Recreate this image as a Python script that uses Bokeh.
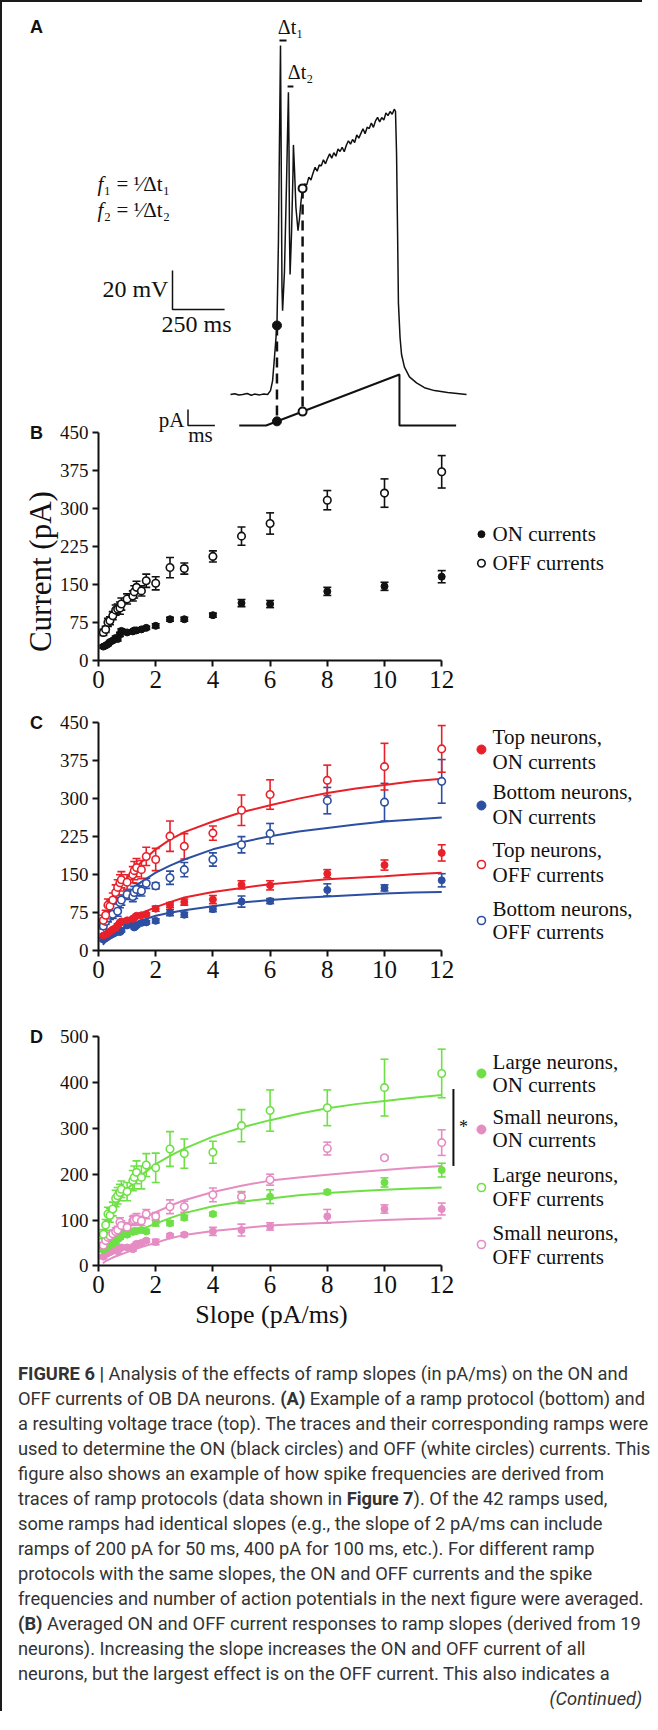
import math
from bokeh.plotting import figure
from bokeh.models import Range1d, FixedTicker, Whisker, TeeHead, ColumnDataSource, Div, LinearAxis
from bokeh.layouts import column
from bokeh.embed import file_html
from bokeh.resources import INLINE
from bokeh.core.properties import value

SERIF = "Liberation Serif"
SANS = "Liberation Sans"

# ------------------------------------------------------------------ panel A data (ms, mV, pA)
trace_t_ms = [0, 20, 40, 58, 80, 100, 115, 140, 160, 178, 192, 202, 211, 223, 230, 235, 240, 242, 245, 247,
              250, 259, 269, 278, 281, 283, 286, 293, 300, 302, 307, 314, 324, 331, 338,
              346, 356, 366, 376, 386, 396, 406, 416, 426, 436, 446, 456, 466, 476, 486, 496, 506, 516, 526,
              536, 546, 556, 566, 576, 586, 596, 606, 616, 626, 636, 646, 656, 666, 676, 686, 696, 706, 716,
              726, 736, 746, 756, 766, 776, 786, 792,
              797, 802, 806, 814, 821, 835, 859, 893, 931, 979, 1042, 1133]
trace_mv = [-60, -59.6, -60.3, -60, -59.5, -60.4, -59.8, -60.2, -59.7, -60, -58, -53, -41, -24.6, 18, 69, 119, 85,
            33, -5, -17, 3, 49, 95, 64, 23, 1.5, 23, 54, 68, 56, 36, 24, 30, 38.5,
            45.7, 48.0, 47.5, 51.5, 50.0, 53.5, 56.5, 54.5, 57.7, 57.3, 60.4, 58.3, 61.1, 63.4, 61.2, 64.0, 62.2,
            65.9, 64.6, 66.8, 64.5, 67.8, 70.1, 68.4, 70.8, 69.2, 73.1, 71.5, 73.9, 76.3, 73.7, 77.1, 76.4, 79.2,
            77.0, 80.3, 82.1, 79.8, 82.0, 80.7, 84.4, 83.0, 85.1, 83.7, 86.3, 85.2,
            64, 23, -13, -31, -39.5, -46, -51, -54, -56.5, -58, -59, -60]
ramp_t_ms = [42, 171, 811, 811, 1083]
ramp_pa = [0, 0, 400, 0, 0]
on_point = dict(t=223, mv=-24.6, pa=32.5)
off_point = dict(t=346, mv=45.7, pa=109)

# ------------------------------------------------------------------ slopes (pA/ms)
slopes = [0.17, 0.25, 0.33, 0.4, 0.5, 0.6, 0.67, 0.75, 0.8, 1.0, 1.2, 1.25, 1.33, 1.5, 1.67,
          2, 2.5, 3, 4, 5, 6, 8, 10, 12]
fit_x = [0.15, 0.25, 0.5, 0.75, 1, 1.5, 2, 2.5, 3, 4, 5, 6, 7, 8, 9, 10, 11, 12]
x_ticks = [0, 2, 4, 6, 8, 10, 12]

# panel B
b_on = [28, 30, 33, 37, 40, 45, 43, 52, 59, 56, 58, 60, 60, 62, 65, 69, 82, 82, 90, 114, 112, 137, 147, 166]
b_on_err = [3, 3, 3, 3, 3, 4, 4, 4, 4, 3, 3, 3, 3, 3, 3, 4, 4, 4, 4, 7, 7, 8, 8, 12]
b_off = [56, 62, 76, 79, 89, 100, 102, 104, 112, 122, 128, 136, 145, 138, 158, 153, 184, 182, 206, 246, 271, 317, 331, 373]
b_off_err = [6, 6, 8, 8, 8, 10, 10, 12, 12, 10, 10, 12, 12, 10, 13, 13, 20, 11, 11, 18, 21, 19, 28, 32]
b_yticks = [0, 75, 150, 225, 300, 375, 450]

# panel C
c_top_on = [30, 32, 35, 38, 42, 45, 50, 55, 58, 60, 63, 65, 69, 70, 72, 83, 90, 96, 101, 130, 129, 152, 169, 193]
c_top_on_err = [3, 3, 3, 3, 3, 3, 3, 3, 3, 3, 3, 3, 3, 3, 3, 5, 5, 6, 8, 8, 9, 8, 10, 16]
c_bot_on = [22, 25, 28, 30, 33, 36, 38, 37, 40, 50, 52, 46, 50, 55, 56, 59, 75, 71, 82, 97, 98, 120, 124, 139]
c_bot_on_err = [3, 3, 3, 3, 3, 3, 3, 3, 3, 3, 3, 3, 3, 3, 3, 4, 6, 5, 5, 11, 5, 12, 6, 13]
c_top_off = [60, 70, 90, 88, 100, 115, 125, 134, 140, 135, 150, 158, 164, 160, 186, 180, 226, 206, 232, 277, 308, 336, 363, 398]
c_top_off_err = [10, 10, 12, 12, 14, 15, 15, 16, 16, 15, 16, 18, 18, 18, 18, 22, 30, 25, 14, 30, 29, 30, 46, 46]
c_bot_off = [49, 58, 65, 70, 72, 85, 78, 95, 100, 111, 107, 115, 121, 118, 133, 128, 144, 160, 180, 209, 231, 296, 293, 334]
c_bot_off_err = [6, 6, 8, 8, 8, 10, 10, 10, 10, 10, 10, 12, 12, 10, 10, 6, 13, 14, 13, 16, 20, 26, 37, 43]
c_fit_top_off = [55, 70, 100, 124, 144, 175, 200, 219, 234, 255, 273, 287, 300, 311, 320, 327, 334, 339]
c_fit_bot_off = [40, 52, 78, 97, 112, 136, 154, 168, 180, 200, 214, 226, 235, 242, 249, 255, 259, 263]
c_fit_top_on = [16, 24, 39, 50, 59, 74, 86, 96, 105, 116, 124, 131, 136, 141, 144, 147, 151, 154]
c_fit_bot_on = [12, 18, 30, 40, 48, 60, 69, 75, 80, 88, 95, 100, 104, 107, 110, 113, 115, 116]
c_yticks = [0, 75, 150, 225, 300, 375, 450]

# panel D
d_large_on = [35, 38, 42, 45, 48, 52, 58, 62, 69, 68, 74, 76, 76, 78, 75, 93, 93, 105, 113, 149, 151, 161, 182, 209]
d_large_on_err = [4, 4, 4, 4, 4, 4, 4, 4, 4, 4, 4, 4, 4, 4, 4, 6, 5, 5, 4, 13, 15, 4, 10, 15]
d_small_on = [20, 25, 28, 30, 33, 35, 32, 38, 40, 40, 36, 43, 48, 50, 55, 52, 66, 68, 75, 78, 86, 108, 124, 124]
d_small_on_err = [4, 4, 4, 4, 4, 4, 4, 4, 4, 4, 4, 4, 4, 4, 4, 6, 4, 4, 9, 13, 8, 15, 9, 13]
d_large_off = [69, 89, 113, 110, 124, 147, 153, 160, 167, 162, 186, 193, 204, 193, 220, 214, 255, 245, 248, 306, 339, 345, 389, 420]
d_large_off_err = [10, 12, 15, 15, 15, 18, 18, 18, 18, 20, 22, 25, 25, 25, 25, 32, 38, 32, 24, 35, 45, 39, 62, 53]
d_small_off = [45, 55, 62, 65, 70, 75, 78, 95, 88, 84, 98, 100, 102, 98, 113, 108, 129, 129, 155, 151, 188, 256, 236, 269]
d_small_off_err = [6, 6, 8, 8, 8, 8, 8, 10, 10, 10, 10, 10, 12, 10, 10, 8, 15, 12, 15, 10, 12, 14, 4, 28]
d_fit_large_off = [58, 80, 113, 145, 167, 198, 222, 240, 256, 282, 302, 318, 332, 344, 353, 360, 367, 373]
d_fit_small_off = [28, 38, 58, 72, 84, 102, 117, 131, 143, 161, 175, 186, 193, 199, 204, 209, 214, 218]
d_fit_large_on = [24, 31, 46, 57, 66, 80, 92, 104, 115, 130, 140, 147, 154, 159, 163, 166, 169, 171]
d_fit_small_on = [6, 10, 18, 24, 30, 41, 50, 60, 67, 76, 82, 88, 91, 94, 97, 100, 102, 104]
d_yticks = [0, 100, 200, 300, 400, 500]
d_sig_span = [218, 386]

legend_b = ["ON currents", "OFF currents"]
legend_c = [("Top neurons,", "ON currents"), ("Bottom neurons,", "ON currents"),
            ("Top neurons,", "OFF currents"), ("Bottom neurons,", "OFF currents")]
legend_d = [("Large neurons,", "ON currents"), ("Small neurons,", "ON currents"),
            ("Large neurons,", "OFF currents"), ("Small neurons,", "OFF currents")]

caption_lines = [
    "<b>FIGURE 6 |</b> Analysis of the effects of ramp slopes (in pA/ms) on the ON and",
    "OFF currents of OB DA neurons. <b>(A)</b> Example of a ramp protocol (bottom) and",
    "a resulting voltage trace (top). The traces and their corresponding ramps were",
    "used to determine the ON (black circles) and OFF (white circles) currents. This",
    "figure also shows an example of how spike frequencies are derived from",
    "traces of ramp protocols (data shown in <b>Figure 7</b>). Of the 42 ramps used,",
    "some ramps had identical slopes (e.g., the slope of 2 pA/ms can include",
    "ramps of 200 pA for 50 ms, 400 pA for 100 ms, etc.). For different ramp",
    "protocols with the same slopes, the ON and OFF currents and the spike",
    "frequencies and number of action potentials in the next figure were averaged.",
    "<b>(B)</b> Averaged ON and OFF current responses to ramp slopes (derived from 19",
    "neurons). Increasing the slope increases the ON and OFF current of all",
    "neurons, but the largest effect is on the OFF current. This also indicates a",
]

RED = "#e8202a"
BLUE = "#2d4fa2"
GREEN = "#6ee046"
PINK = "#e58cc2"
BLACK = "#111111"

# ------------------------------------------------------------------ canvas geometry (page pixels)
W, H = 640, 1350
LEFT, TOP = 10, 10


def xr(val, page, px_per_unit):
    f = lambda pg: val + (pg - page) / px_per_unit
    return Range1d(f(LEFT), f(LEFT + W))


def yr(val, page, px_per_unit):
    f = lambda pg: val + (page - pg) / px_per_unit
    return Range1d(f(TOP + H), f(TOP))


p = figure(width=W, height=H, x_range=xr(0, 238, 1 / 4.8), y_range=yr(-60, 402, 1.95),
           x_axis_type=None, y_axis_type=None, output_backend="svg", toolbar_location=None,
           min_border=0, background_fill_color=None, border_fill_color=None, outline_line_color=None)
p.grid.visible = False
p.extra_x_ranges = {"bx": xr(0, 106, 28.6)}
p.extra_y_ranges = {"pa": yr(0, 433, 1 / 7.84),
                    "by": yr(0, 668.3, 0.5067),
                    "cy": yr(0, 958.3, 0.5073),
                    "dy": yr(0, 1273.3, 0.458)}


def pa_to_mv(v):
    r, m = p.extra_y_ranges["pa"], p.y_range
    return m.start + (v - r.start) / (r.end - r.start) * (m.end - m.start)


def txt(x, y, s, size, font=SERIF, align="left", style="normal", angle=0.0, **rn):
    p.text(x, y, text=s, text_font=value(font), text_font_size=size, text_font_style=style,
           text_align=align, text_baseline="middle", text_color=BLACK, angle=angle, **rn)


# ------------------------------------------------------------------ panel A
p.line(trace_t_ms, trace_mv, line_color=BLACK, line_width=1.5)
p.line(ramp_t_ms, ramp_pa, y_range_name="pa", line_color=BLACK, line_width=2)
for pt in (on_point, off_point):
    p.segment(x0=[pt["t"]], y0=[pt["mv"]], x1=[pt["t"]], y1=[pa_to_mv(pt["pa"])],
              line_color=BLACK, line_width=2.5, line_dash="10 6")
p.scatter([on_point["t"]], [on_point["mv"]], size=9, color=BLACK)
p.scatter([on_point["t"]], [on_point["pa"]], y_range_name="pa", size=9, color=BLACK)
p.scatter([off_point["t"]], [off_point["mv"]], size=8, fill_color="white", line_color=BLACK, line_width=2)
p.scatter([off_point["t"]], [off_point["pa"]], y_range_name="pa", size=8, fill_color="white",
          line_color=BLACK, line_width=2)
p.segment(x0=[235, 274], y0=[121.6, 98], x1=[269, 302], y1=[121.6, 98], line_color=BLACK, line_width=2)
txt([288], [128.3], ["Δt₁"], "20px", align="center")
txt([336], [105.2], ["Δt₂"], "20px", align="center")
txt([-638, -638], [47.7, 34.4], ["f", "f"], "21px", style="italic")
txt([-608, -608], [47.7, 34.4], ["₁ = ¹⁄Δt₁", "₂ = ¹⁄Δt₂"], "21px")
p.line([-278.4, -278.4, -28.4], [3.6, -16.4, -16.4], line_color=BLACK, line_width=1.5)
txt([-298], [-6.1], ["20 mV"], "24px", align="right")
txt([-163], [-24.1], ["250 ms"], "24px", align="center")
p.line([-204, -204, -75], [125, 0, 0], y_range_name="pa", line_color=BLACK, line_width=1.5)
txt([-221], [47], ["pA"], "21px", align="right", y_range_name="pa")
txt([-144], [-70.6], ["ms"], "21px", align="center", y_range_name="pa")
txt([-931], [128.3], ["A"], "18px", font=SANS, style="bold", align="center")


# ------------------------------------------------------------------ panels B, C, D
def add_axes(yname, y_end, yticks, letter):
    xa = LinearAxis(x_range_name="bx", y_range_name=yname, fixed_location=0, bounds=(0, 12),
                    ticker=FixedTicker(ticks=x_ticks))
    ya = LinearAxis(x_range_name="bx", y_range_name=yname, fixed_location=0, bounds=(0, y_end),
                    ticker=FixedTicker(ticks=yticks))
    for ax in (xa, ya):
        ax.axis_line_width = 2
        ax.axis_line_color = BLACK
        ax.major_tick_line_width = 2
        ax.major_tick_line_color = BLACK
        ax.major_tick_out = 6
        ax.major_tick_in = 0
        ax.minor_tick_line_color = None
        ax.major_label_text_font = SERIF
        ax.major_label_text_color = BLACK
        ax.major_label_standoff = 4
    xa.major_label_text_font_size = "25px"
    ya.major_label_text_font_size = "19px"
    p.add_layout(xa, "below")
    p.add_layout(ya, "left")
    txt([-2.17], [y_end], [letter], "18px", font=SANS, style="bold", align="center",
        x_range_name="bx", y_range_name=yname)


def series(yname, ys, errs, color, filled, size=7):
    src = ColumnDataSource(dict(x=slopes, y=ys,
                                lo=[y - e for y, e in zip(ys, errs)],
                                hi=[y + e for y, e in zip(ys, errs)]))
    p.add_layout(Whisker(source=src, base="x", lower="lo", upper="hi", line_color=color, line_width=1.6,
                         x_range_name="bx", y_range_name=yname,
                         upper_head=TeeHead(size=8, line_color=color, line_width=1.6),
                         lower_head=TeeHead(size=8, line_color=color, line_width=1.6)))
    if filled:
        p.scatter("x", "y", source=src, size=size, color=color, x_range_name="bx", y_range_name=yname)
    else:
        p.scatter("x", "y", source=src, size=size + 0.5, fill_color="white", line_color=color,
                  line_width=1.6, x_range_name="bx", y_range_name=yname)


def legend_entry(yname, y_marker, lines, y_lines, color, filled, size=9):
    if filled:
        p.scatter([13.39], [y_marker], size=size, color=color, x_range_name="bx", y_range_name=yname)
    else:
        p.scatter([13.39], [y_marker], size=size - 1, fill_color="white", line_color=color, line_width=1.6,
                  x_range_name="bx", y_range_name=yname)
    txt([13.78] * len(lines), y_lines, lines, "21px", x_range_name="bx", y_range_name=yname)


# B
add_axes("by", 450, b_yticks, "B")
series("by", b_on, b_on_err, BLACK, True)
series("by", b_off, b_off_err, BLACK, False)
legend_entry("by", 249.9, [legend_b[0]], [249.9], BLACK, True, size=7)
legend_entry("by", 192.6, [legend_b[1]], [192.6], BLACK, False, size=8.5)
txt([-2.03], [176], ["Current (pA)"], "31px", align="center", angle=math.pi / 2,
    x_range_name="bx", y_range_name="by")

# C
add_axes("cy", 450, c_yticks, "C")
for ys, col in ((c_fit_top_off, RED), (c_fit_bot_off, BLUE), (c_fit_top_on, RED), (c_fit_bot_on, BLUE)):
    p.line(fit_x, ys, line_color=col, line_width=2, x_range_name="bx", y_range_name="cy")
series("cy", c_bot_on, c_bot_on_err, BLUE, True)
series("cy", c_top_on, c_top_on_err, RED, True)
series("cy", c_bot_off, c_bot_off_err, BLUE, False)
series("cy", c_top_off, c_top_off_err, RED, False)
legend_entry("cy", 396.8, list(legend_c[0]), [420.5, 371.2], RED, True)
legend_entry("cy", 286.4, list(legend_c[1]), [312.1, 262.8], BLUE, True)
legend_entry("cy", 170.1, list(legend_c[2]), [197.8, 148.6], RED, False)
legend_entry("cy", 59.7, list(legend_c[3]), [81.6, 36.1], BLUE, False)

# D
add_axes("dy", 500, d_yticks, "D")
for ys, col in ((d_fit_large_off, GREEN), (d_fit_small_off, PINK), (d_fit_large_on, GREEN), (d_fit_small_on, PINK)):
    p.line(fit_x, ys, line_color=col, line_width=2, x_range_name="bx", y_range_name="dy")
series("dy", d_small_on, d_small_on_err, PINK, True)
series("dy", d_large_on, d_large_on_err, GREEN, True)
series("dy", d_small_off, d_small_off_err, PINK, False)
series("dy", d_large_off, d_large_off_err, GREEN, False)
legend_entry("dy", 419.9, list(legend_d[0]), [443.9, 393.7], GREEN, True)
legend_entry("dy", 297.6, list(legend_d[1]), [323.8, 273.6], PINK, True)
legend_entry("dy", 171.0, list(legend_d[2]), [197.2, 146.9], GREEN, False)
legend_entry("dy", 46.5, list(legend_d[3]), [72.7, 20.3], PINK, False)
p.segment(x0=[12.41], y0=[d_sig_span[0]], x1=[12.41], y1=[d_sig_span[1]], line_color=BLACK, line_width=2,
          x_range_name="bx", y_range_name="dy")
txt([12.76], [302], ["*"], "18px", align="center", x_range_name="bx", y_range_name="dy")
txt([6.05], [-106], ["Slope (pA/ms)"], "26px", align="center", x_range_name="bx", y_range_name="dy")

# ------------------------------------------------------------------ caption
cap_html = ('<div style="font-family:Roboto, sans-serif;font-size:18.3px;line-height:25px;color:#333333;'
            'padding-left:16px;white-space:nowrap;">' + "<br>".join(caption_lines) +
            '<div style="text-align:right;font-style:italic;padding-right:8px;">(Continued)</div></div>')
cap = Div(text=cap_html, width=W, height=350, margin=(9, 0, 0, 0))

layout = column(p, cap, spacing=0,
                styles={"border-top": "2px solid #1a1a1a", "border-left": "2px solid #1a1a1a"})

open("out.html", "w").write(file_html(layout, INLINE))
